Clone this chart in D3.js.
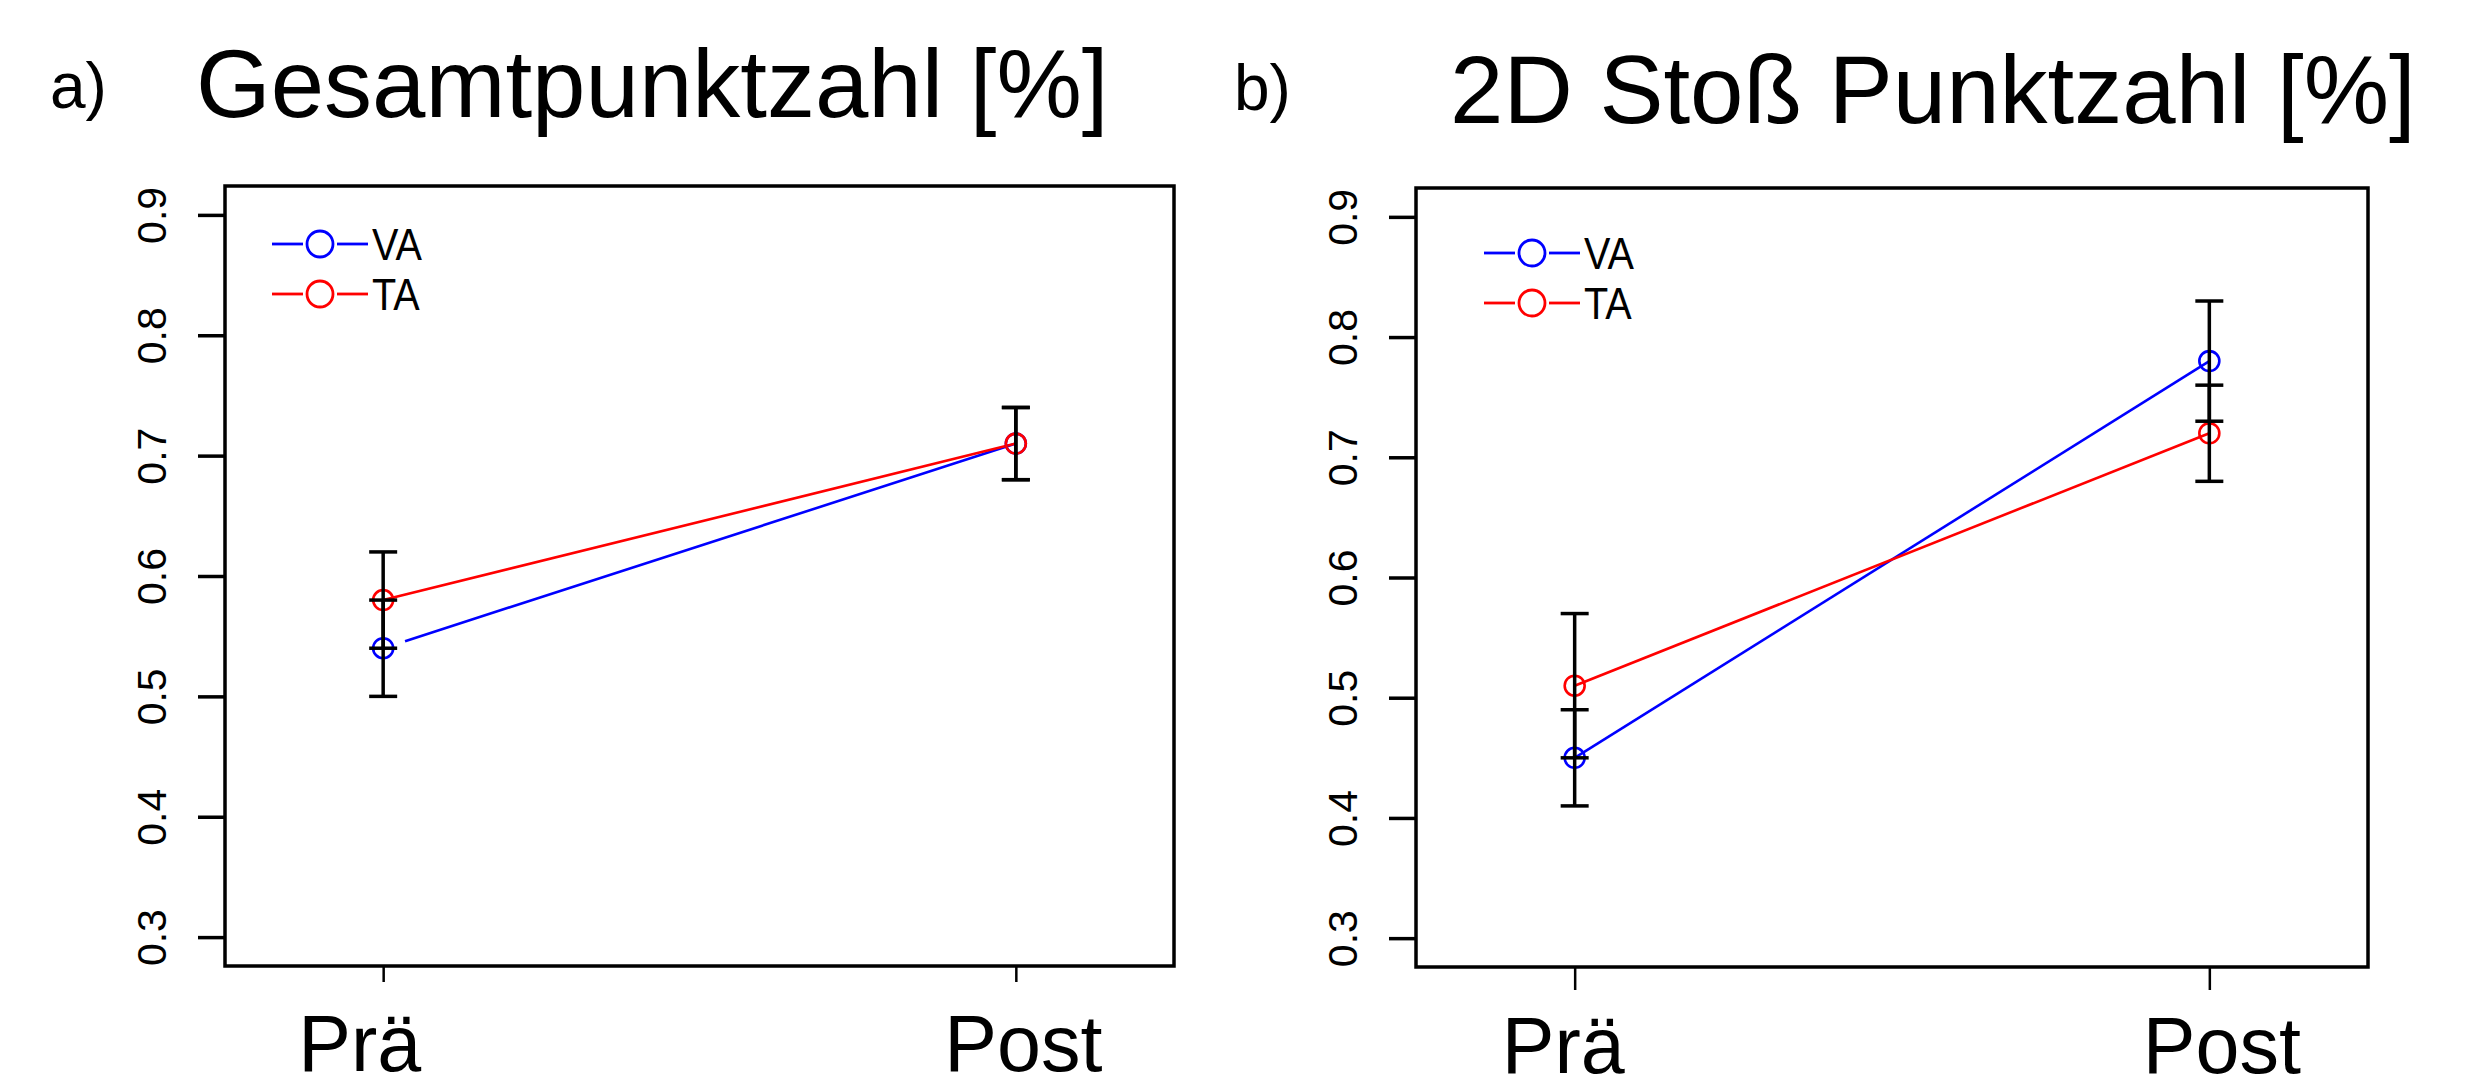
<!DOCTYPE html>
<html>
<head>
<meta charset="utf-8">
<script src="https://cdn.jsdelivr.net/npm/d3@7"></script>
<style>
  body { margin: 0; background: #fff; }
  svg { display: block; font-family: "Liberation Sans", Arial, sans-serif; }
</style>
</head>
<body>
<div id="chart"></div>
<script>
// data
var categories = ["Prä", "Post"];
var yTicks = [0.3, 0.4, 0.5, 0.6, 0.7, 0.8, 0.9];
var seriesNames = ["VA", "TA"];
var seriesColors = ["#0000ff", "#ff0000"];

var gesamtVA = [0.54, 0.71];
var gesamtVAerr = [0.04, 0.03];
var gesamtTA = [0.58, 0.71];
var gesamtTAerr = [0.04, 0.03];

var stossVA = [0.45, 0.78];
var stossVAerr = [0.04, 0.05];
var stossTA = [0.51, 0.72];
var stossTAerr = [0.06, 0.04];

var W = 2481, H = 1089;

var svg = d3.select("#chart").append("svg")
  .attr("width", W)
  .attr("height", H);

svg.append("rect").attr("width", W).attr("height", H).attr("fill", "#fff");

function drawPanel(p) {
  var x = d3.scalePoint()
    .domain(categories)
    .range([p.left, p.right])
    .padding(0.25);

  var y = d3.scaleLinear()
    .domain([0.276, 0.924])
    .range([p.bottom, p.top]);

  var g = svg.append("g");

  // letter + title
  g.append("text")
    .attr("x", p.letterX)
    .attr("y", p.letterY)
    .attr("font-size", 64)
    .text(p.letter);

  g.append("text")
    .attr("x", p.titleX)
    .attr("y", p.titleY)
    .attr("font-size", 96)
    .text(p.title);

  // y axis
  var ya = g.append("g")
    .attr("transform", "translate(" + p.left + ",0)")
    .call(d3.axisLeft(y).tickValues(yTicks).tickSize(27).tickFormat(d3.format(".1f")));
  ya.select(".domain").remove();
  ya.selectAll(".tick line").attr("stroke", "#000").attr("stroke-width", 3.5);
  ya.selectAll(".tick text")
    .attr("transform", "rotate(-90)")
    .attr("x", 0)
    .attr("y", -59)
    .attr("dy", 0)
    .attr("text-anchor", "middle")
    .attr("font-size", 41)
    .attr("font-family", "Liberation Sans, Arial, sans-serif")
    .attr("fill", "#000");

  // x axis
  var xa = g.append("g")
    .attr("transform", "translate(0," + p.bottom + ")")
    .call(d3.axisBottom(x).tickSize(p.xTick));
  xa.select(".domain").remove();
  xa.selectAll(".tick line").attr("stroke", "#000").attr("stroke-width", 2.5);
  xa.selectAll(".tick text")
    .attr("x", function(d, i) { return p.xLabelShift[i]; })
    .attr("y", p.xLabelY)
    .attr("dy", 0)
    .attr("font-size", 79)
    .attr("font-family", "Liberation Sans, Arial, sans-serif")
    .attr("fill", "#000");

  var line = d3.line()
    .x(function(d, i) { return x(categories[i]); })
    .y(function(d) { return y(d); });

  p.series.forEach(function(s, k) {
    g.append("path")
      .datum(s.mean)
      .attr("d", line)
      .attr("fill", "none")
      .attr("stroke", seriesColors[k])
      .attr("stroke-width", 2.6)
      .attr("stroke-dasharray", p.startGap[k] ? "0," + p.startGap[k] + ",5000" : null);
  });

  p.series.forEach(function(s, k) {
    g.selectAll(".pt" + k)
      .data(s.mean)
      .enter().append("circle")
        .attr("cx", function(d, i) { return x(categories[i]); })
        .attr("cy", function(d) { return y(d); })
        .attr("r", 10)
        .attr("fill", "none")
        .attr("stroke", seriesColors[k])
        .attr("stroke-width", 2.6);
  });

  // error bars
  p.series.forEach(function(s) {
    var eb = g.selectAll(null)
      .data(s.mean.map(function(m, i) { return {c: categories[i], lo: m - s.err[i], hi: m + s.err[i]}; }))
      .enter().append("g")
        .attr("stroke", "#000")
        .attr("stroke-width", 3.5);
    eb.append("line")
      .attr("x1", function(d) { return x(d.c); })
      .attr("x2", function(d) { return x(d.c); })
      .attr("y1", function(d) { return y(d.lo); })
      .attr("y2", function(d) { return y(d.hi); });
    eb.append("line")
      .attr("x1", function(d) { return x(d.c) - 14; })
      .attr("x2", function(d) { return x(d.c) + 14; })
      .attr("y1", function(d) { return y(d.lo); })
      .attr("y2", function(d) { return y(d.lo); });
    eb.append("line")
      .attr("x1", function(d) { return x(d.c) - 14; })
      .attr("x2", function(d) { return x(d.c) + 14; })
      .attr("y1", function(d) { return y(d.hi); })
      .attr("y2", function(d) { return y(d.hi); });
  });

  // legend
  var leg = g.selectAll(".leg")
    .data(seriesNames)
    .enter().append("g")
      .attr("transform", function(d, i) { return "translate(" + p.legX + "," + (p.legY + i * 50) + ")"; });
  leg.append("line")
    .attr("x1", 0).attr("x2", 31)
    .attr("stroke", function(d, i) { return seriesColors[i]; })
    .attr("stroke-width", 2.8);
  leg.append("line")
    .attr("x1", 65).attr("x2", 96)
    .attr("stroke", function(d, i) { return seriesColors[i]; })
    .attr("stroke-width", 2.8);
  leg.append("circle")
    .attr("cx", 48).attr("r", 13)
    .attr("fill", "none")
    .attr("stroke", function(d, i) { return seriesColors[i]; })
    .attr("stroke-width", 2.8);
  leg.append("text")
    .attr("transform", "translate(100,0) scale(0.88,1)")
    .attr("dy", "0.36em")
    .attr("font-size", 45)
    .text(function(d) { return d; });

  // box
  g.append("rect")
    .attr("x", p.left)
    .attr("y", p.top)
    .attr("width", p.right - p.left)
    .attr("height", p.bottom - p.top)
    .attr("fill", "none")
    .attr("stroke", "#000")
    .attr("stroke-width", 3.5);
}

drawPanel({
  letter: "a)", letterX: 50, letterY: 108,
  title: "Gesamtpunktzahl [%]", titleX: 196, titleY: 117,
  left: 225, right: 1174, top: 186, bottom: 966,
  xTick: 16, xLabelY: 105, xLabelShift: [-24, 7],
  legX: 272, legY: 244, startGap: [23, 0],
  series: [{mean: gesamtVA, err: gesamtVAerr}, {mean: gesamtTA, err: gesamtTAerr}]
});

drawPanel({
  letter: "b)", letterX: 1234, letterY: 110,
  title: "2D Stoß Punktzahl [%]", titleX: 1450, titleY: 123,
  left: 1416, right: 2368, top: 188, bottom: 967,
  xTick: 23, xLabelY: 106, xLabelShift: [-12, 12],
  legX: 1484, legY: 253, startGap: [0, 0],
  series: [{mean: stossVA, err: stossVAerr}, {mean: stossTA, err: stossTAerr}]
});
</script>
</body>
</html>
